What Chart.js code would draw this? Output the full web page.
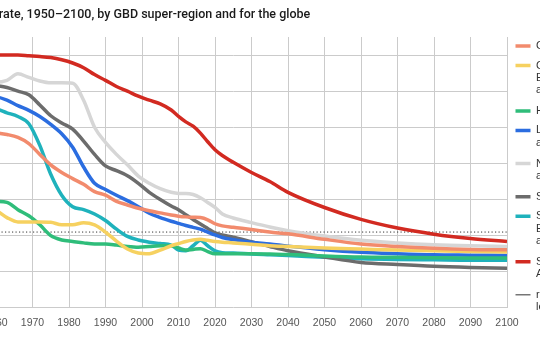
<!DOCTYPE html>
<html lang="en">
<head>
    <meta charset="UTF-8">
    <title>Total fertility rate by GBD super-region</title>
    <script src="https://cdn.jsdelivr.net/npm/chart.js@4.4.1/dist/chart.umd.min.js"></script>
    <style>
        html, body { margin: 0; padding: 0; background: #fff; overflow: hidden; }
        #wrap { position: relative; width: 540px; height: 340px; overflow: hidden; }
        #tfrChart { position: absolute; left: -75px; top: 0; }
    </style>
</head>
<body>

    <div id="wrap">
        <canvas id="tfrChart" width="682" height="340"></canvas>
    </div>

    <script>

        // years shared by every series
        var years = [1950, 1955, 1960, 1963, 1966, 1969, 1972, 1975, 1978, 1981, 1984, 1987,
                     1990, 1993, 1996, 1999, 2002, 2005, 2008, 2010, 2012, 2014, 2016, 2018,
                     2020, 2022, 2025, 2030, 2035, 2040, 2050, 2060, 2070, 2080, 2090, 2100];

        var globalTfr   = [4.95, 4.9, 4.85, 4.8, 4.72, 4.55, 4.25, 3.96, 3.75, 3.58, 3.42, 3.22,
                           3.12, 2.95, 2.85, 2.76, 2.69, 2.63, 2.57, 2.54, 2.52, 2.51, 2.5, 2.44,
                           2.33, 2.27, 2.23, 2.17, 2.1, 2.05, 1.9, 1.77, 1.7, 1.65, 1.62, 1.61];
        var ceeTfr      = [2.9, 2.85, 2.7, 2.5, 2.38, 2.38, 2.38, 2.37, 2.3, 2.3, 2.36, 2.3,
                           2.1, 1.85, 1.63, 1.52, 1.5, 1.6, 1.72, 1.78, 1.84, 1.88, 1.9, 1.87,
                           1.84, 1.82, 1.8, 1.76, 1.72, 1.7, 1.66, 1.63, 1.6, 1.58, 1.56, 1.55];
        var highTfr     = [3.0, 3.0, 2.95, 2.92, 2.72, 2.55, 2.3, 2.0, 1.88, 1.84, 1.8, 1.77,
                           1.77, 1.74, 1.7, 1.68, 1.7, 1.72, 1.72, 1.66, 1.6, 1.62, 1.64, 1.56,
                           1.5, 1.5, 1.5, 1.5, 1.49, 1.48, 1.44, 1.41, 1.4, 1.39, 1.38, 1.38];
        var latamTfr    = [5.9, 5.9, 5.85, 5.75, 5.6, 5.47, 5.3, 5.08, 4.82, 4.45, 3.9, 3.45,
                           3.28, 3.12, 2.97, 2.8, 2.62, 2.5, 2.4, 2.34, 2.28, 2.23, 2.18, 2.1,
                           2.02, 1.95, 1.89, 1.82, 1.77, 1.71, 1.61, 1.54, 1.5, 1.47, 1.46, 1.45];
        var nameTfr     = [6.6, 6.55, 6.25, 6.3, 6.48, 6.38, 6.28, 6.23, 6.23, 6.22, 5.75, 5.0,
                           4.58, 4.25, 3.96, 3.65, 3.45, 3.3, 3.2, 3.17, 3.17, 3.14, 3.05, 2.92,
                           2.78, 2.6, 2.49, 2.36, 2.24, 2.14, 1.99, 1.87, 1.8, 1.75, 1.72, 1.7];
        var southAsiaTfr = [5.95, 6.05, 6.15, 6.1, 6.0, 5.9, 5.62, 5.32, 5.12, 4.95, 4.62, 4.25,
                           3.93, 3.8, 3.66, 3.45, 3.2, 3.0, 2.82, 2.72, 2.58, 2.45, 2.32, 2.2,
                           2.08, 2.02, 1.96, 1.83, 1.7, 1.58, 1.41, 1.26, 1.2, 1.15, 1.12, 1.1];
        var seAsiaTfr   = [5.6, 5.5, 5.5, 5.4, 5.3, 5.1, 4.5, 3.7, 3.12, 2.8, 2.72, 2.6,
                           2.42, 2.18, 1.98, 1.88, 1.82, 1.78, 1.74, 1.6, 1.58, 1.72, 1.87, 1.72,
                           1.58, 1.53, 1.52, 1.49, 1.47, 1.45, 1.4, 1.36, 1.34, 1.33, 1.32, 1.32];
        var ssaTfr      = [6.95, 6.97, 7.0, 7.0, 7.0, 6.98, 6.96, 6.93, 6.87, 6.78, 6.65, 6.46,
                           6.3, 6.13, 6.0, 5.86, 5.75, 5.65, 5.48, 5.3, 5.15, 5.03, 4.84, 4.6,
                           4.38, 4.22, 4.03, 3.75, 3.5, 3.2, 2.78, 2.45, 2.21, 2.04, 1.92, 1.84];

        var replacementYears = [1950, 2100];
        var replacementTfr = [2.1, 2.1];

        var seriesLabels = [
            'Global',
            ['Central Europe,', 'Eastern Europe,', 'and Central Asia'],
            'High-income',
            ['Latin America', 'and Caribbean'],
            ['North Africa', 'and Middle East'],
            'South Asia',
            ['Southeast Asia,', 'East Asia,', 'and Oceania'],
            ['Sub-Saharan', 'Africa']
        ];
        var seriesValues = [globalTfr, ceeTfr, highTfr, latamTfr, nameTfr, southAsiaTfr, seAsiaTfr, ssaTfr];
        var seriesColors = ['#f28b6d', '#f6d160', '#2fbd7a', '#2b6de0', '#d6d6d6', '#6c6c6c', '#1fb2bc', '#d22a21'];

        var font = '"Liberation Sans", Arial, sans-serif';

        function toPoints(xs, ys) {
            return xs.map(function (x, i) { return { x: x, y: ys[i] }; });
        }

        var datasets = seriesValues.map(function (vals, i) {
            return {
                label: seriesLabels[i],
                data: toPoints(years, vals),
                borderColor: seriesColors[i],
                backgroundColor: seriesColors[i],
                borderWidth: 3.5,
                pointRadius: 0,
                cubicInterpolationMode: 'monotone',
                fill: false
            };
        });

        datasets.push({
            label: ['replacement', 'level'],
            data: toPoints(replacementYears, replacementTfr),
            borderColor: '#333',
            backgroundColor: '#333',
            borderWidth: 1,
            borderDash: [1.2, 2.3],
            pointRadius: 0,
            fill: false
        });

        var ctx = document.getElementById('tfrChart').getContext('2d');
        var tfrChart = new Chart(ctx, {
            type: 'line',
            data: { datasets: datasets },
            options: {
                responsive: false,
                animation: false,
                layout: { padding: { left: 0, right: 0, top: 0, bottom: 1.5 } },
                plugins: {
                    tooltip: { enabled: false },
                    title: {
                        display: true,
                        text: 'Total fertility rate, 1950\u20132100, by GBD super-region and for the globe',
                        align: 'start',
                        color: '#1a1a1a',
                        font: { family: 'Roboto, ' + font, size: 12.5, weight: '500' },
                        padding: { top: 7, bottom: 15 }
                    },
                    legend: {
                        position: 'right',
                        align: 'start',
                        maxWidth: 100,
                        // empty title only pushes the first entry down
                        title: { display: true, text: '', padding: 0, font: { size: 10, lineHeight: 3.2 } },
                        labels: {
                            usePointStyle: true,
                            pointStyle: 'line',
                            pointStyleWidth: 15,
                            boxHeight: 4,
                            padding: 8.5,
                            color: '#333',
                            font: { family: font, size: 11, lineHeight: 1.12 }
                        }
                    }
                },
                scales: {
                    x: {
                        type: 'linear',
                        min: 1950,
                        max: 2100,
                        ticks: {
                            stepSize: 10,
                            padding: 9,
                            color: '#555',
                            font: { family: font, size: 10.5 },
                            callback: function (v) { return String(v); }
                        },
                        grid: { color: '#cbcbcb', drawTicks: false },
                        border: { display: false }
                    },
                    y: {
                        min: 0,
                        max: 7.5,
                        ticks: {
                            stepSize: 1,
                            padding: 6,
                            color: '#555',
                            font: { family: font, size: 10.5 }
                        },
                        afterBuildTicks: function (scale) {
                            scale.ticks = scale.ticks.filter(function (t) { return Number.isInteger(t.value); });
                        },
                        afterFit: function (scale) { scale.width = 34.5; },
                        grid: { color: '#cbcbcb', drawTicks: false },
                        border: { display: false }
                    }
                }
            }
        });

    </script>

</body>
</html>
